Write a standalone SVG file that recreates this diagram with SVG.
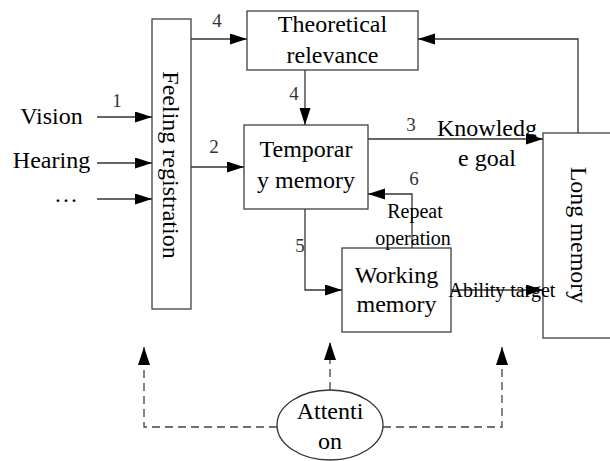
<svg xmlns="http://www.w3.org/2000/svg" width="610" height="461" viewBox="0 0 610 461">
<defs>
<marker id="arr" markerUnits="userSpaceOnUse" markerWidth="18" markerHeight="12" refX="17" refY="5.5" orient="auto">
<path d="M0,0 L17,5.5 L0,11 z" fill="#000"/>
</marker>
<marker id="darr" markerUnits="userSpaceOnUse" markerWidth="19" markerHeight="13" refX="18" refY="6" orient="auto">
<path d="M0,0 L18,6 L0,12 z" fill="#000"/>
</marker>
</defs>
<style>
.box{fill:#fff;stroke:#404040;stroke-width:1.3}
.t{font-family:"Liberation Serif","Times New Roman",serif;font-size:24px;fill:#000;text-anchor:middle}
.s{font-family:"Liberation Serif","Times New Roman",serif;font-size:20px;fill:#000;text-anchor:middle}
.n{font-family:"Liberation Serif","Times New Roman",serif;font-size:19px;fill:#333;text-anchor:middle}
.c{fill:none;stroke:#333;stroke-width:1.3;marker-end:url(#arr)}
.d{fill:none;stroke:#444;stroke-width:1.3;stroke-dasharray:8,5;marker-end:url(#darr)}
</style>
<g id="connectors">
<line class="c" x1="97" y1="117" x2="152" y2="117"/>
<line class="c" x1="97" y1="163" x2="152" y2="163"/>
<line class="c" x1="97" y1="199" x2="152" y2="199"/>
<line class="c" x1="191" y1="39" x2="247" y2="39"/>
<line class="c" x1="191" y1="167" x2="244" y2="167"/>
<line class="c" x1="305" y1="70" x2="305" y2="125"/>
<line class="c" x1="368" y1="139" x2="543" y2="139"/>
<polyline class="c" points="578,133 578,39 418,39"/>
<polyline class="c" points="412,248 412,194 368,194"/>
<polyline class="c" points="305,209 305,290 342,290"/>
<line class="c" x1="451" y1="290" x2="543" y2="290"/>
<polyline class="d" points="277,427 144,427 144,347"/>
<line class="d" x1="330" y1="390" x2="330" y2="342"/>
<polyline class="d" points="383,427 502,427 502,347"/>
</g>
<g id="inputs">
<text class="t" x="51.5" y="124">Vision</text>
<text class="t" x="51.5" y="168">Hearing</text>
<text class="t" x="66" y="202" textLength="28" lengthAdjust="spacing">…</text>
</g>
<g id="feeling-registration">
<rect class="box" x="152" y="19" width="39" height="290"/>
<text class="t" transform="translate(171,165) rotate(90)" dominant-baseline="central">Feeling registration</text>
</g>
<g id="theoretical-relevance">
<rect class="box" x="247" y="11" width="171" height="59"/>
<text class="t" x="332.5" y="32">Theoretical</text>
<text class="t" x="332.5" y="63">relevance</text>
</g>
<g id="temporary-memory">
<rect class="box" x="244" y="125" width="124" height="84"/>
<text class="t" x="306" y="157">Temporar</text>
<text class="t" x="306" y="188">y memory</text>
</g>
<g id="working-memory">
<rect class="box" x="342" y="248" width="109" height="84"/>
<text class="t" x="396.5" y="283">Working</text>
<text class="t" x="396.5" y="312">memory</text>
</g>
<g id="long-memory">
<rect class="box" x="543" y="133" width="70" height="205"/>
<text class="t" transform="translate(579,235) rotate(90)" dominant-baseline="central">Long memory</text>
</g>
<g id="attention">
<ellipse cx="330" cy="425" rx="53" ry="35" fill="#fff" stroke="#333" stroke-width="1.3"/>
<text class="t" x="330" y="419">Attenti</text>
<text class="t" x="330" y="449">on</text>
</g>
<g id="connector-labels">
<text class="n" x="117" y="107">1</text>
<text class="n" x="217" y="27">4</text>
<text class="n" x="294" y="100">4</text>
<text class="n" x="214" y="153">2</text>
<text class="n" x="411" y="131">3</text>
<text class="n" x="414" y="185">6</text>
<text class="n" x="300" y="252">5</text>
<text class="t" x="487" y="136">Knowledg</text>
<text class="t" x="487" y="166">e goal</text>
<text class="s" x="415" y="218">Repeat</text>
<text class="s" x="413" y="245">operation</text>
<text class="s" x="502" y="297">Ability target</text>
</g>
</svg>
